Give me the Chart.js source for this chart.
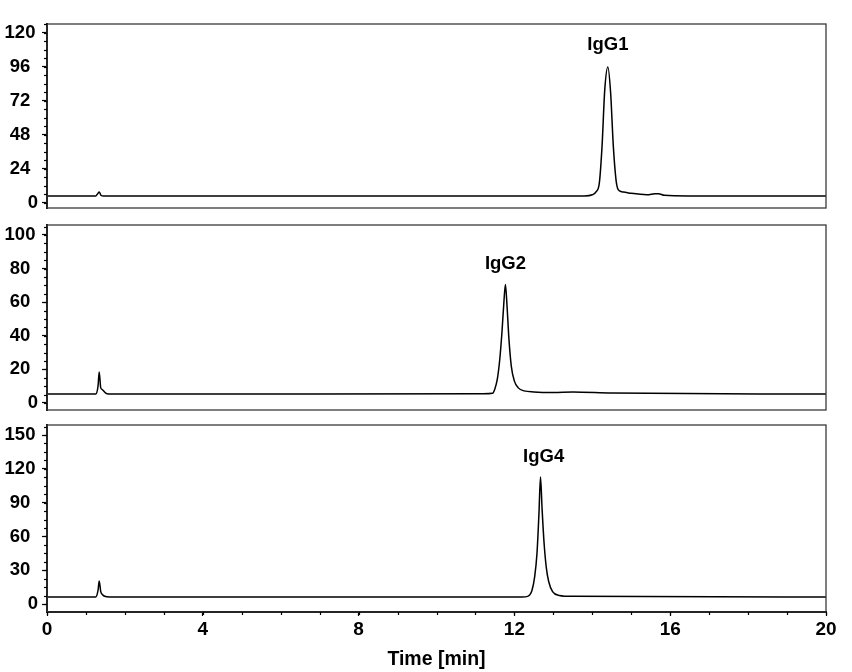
<!DOCTYPE html>
<html>
<head>
<meta charset="utf-8">
<script src="https://cdn.jsdelivr.net/npm/chart.js@4/dist/chart.umd.min.js"></script>
<style>
  html, body { margin: 0; padding: 0; background: #fff; }
  #wrap { position: relative; width: 852px; height: 672px; }
  canvas { position: absolute; left: 0; }
</style>
</head>
<body>
<div id="wrap">
  <canvas id="c1" style="top:0px"></canvas>
  <canvas id="c2" style="top:216px"></canvas>
  <canvas id="c3" style="top:416px"></canvas>
</div>
<script>
// ---------- DATA ----------
const xTickLabels = [0, 4, 8, 12, 16, 20];

const igg1Time   = [0, 1.25, 1.30, 1.34, 1.39, 1.45, 13.8, 14.0, 14.10, 14.18, 14.25, 14.32, 14.40, 14.47, 14.54, 14.62, 14.70, 14.80, 15.0, 15.4, 15.6, 15.7, 15.85, 16.5, 20];
const igg1Signal = [4.9, 4.9, 6.5, 7.8, 5.3, 4.9, 5.0, 5.8, 8.0, 14, 40, 80, 96, 78, 40, 14, 8.5, 7.8, 6.8, 5.8, 6.5, 6.6, 5.4, 5.0, 4.9];

const igg2Time   = [0, 1.25, 1.31, 1.34, 1.38, 1.42, 1.50, 1.58, 11.2, 11.44, 11.50, 11.56, 11.62, 11.68, 11.73, 11.77, 11.81, 11.86, 11.92, 12.00, 12.10, 12.25, 12.5, 13.0, 13.5, 14.5, 20];
const igg2Signal = [5.3, 5.3, 10, 18.5, 9, 8, 6, 5.3, 5.5, 5.8, 8.5, 14, 25, 42, 60, 70.5, 58, 38, 22, 13, 9, 7.2, 6.6, 6.3, 6.5, 5.9, 5.3];

const igg4Time   = [0, 1.25, 1.31, 1.34, 1.38, 1.42, 1.50, 1.60, 12.2, 12.34, 12.45, 12.52, 12.58, 12.63, 12.67, 12.71, 12.76, 12.82, 12.88, 12.98, 13.15, 13.5, 20];
const igg4Signal = [6.2, 6.2, 12, 20.4, 11, 8.5, 6.6, 6.2, 6.3, 6.8, 12, 24, 45, 80, 112.7, 85, 55, 32, 20, 11, 7.6, 6.8, 6.3];

const igg1Ticks = [0, 24, 48, 72, 96, 120];
const igg2Ticks = [0, 20, 40, 60, 80, 100];
const igg4Ticks = [0, 30, 60, 90, 120, 150];

const panelLabels = [
  { text: 'IgG1', x: 14.4,  y: 111.5 },
  { text: 'IgG2', x: 11.77, y: 83 },
  { text: 'IgG4', x: 12.75, y: 131 }
];
// ---------- END DATA ----------

const FONT = "'Liberation Sans', Arial, sans-serif";

const framePlugin = {
  id: 'frame',
  afterDatasetsDraw(chart, args, opts) {
    const { ctx, chartArea: a } = chart;
    ctx.save();
    ctx.strokeStyle = '#3a3a3a';
    ctx.lineWidth = 1.3;
    ctx.strokeRect(a.left, a.top, a.right - a.left, a.bottom - a.top);
    const ys = chart.scales.y;
    ctx.strokeStyle = '#000';
    ctx.lineWidth = 1.2;
    const minor = opts.yMinor;
    for (let v = 0; v <= ys.max; v += minor) {
      const py = Math.round(ys.getPixelForValue(v)) + 0.5;
      ctx.beginPath();
      ctx.moveTo(a.left - 3, py);
      ctx.lineTo(a.left, py);
      ctx.stroke();
    }
    if (opts.xMinor) {
      const xs = chart.scales.x;
      for (let v = 0; v <= 20; v += opts.xMinor) {
        const px = Math.round(xs.getPixelForValue(v)) + 0.5;
        ctx.beginPath();
        ctx.moveTo(px, a.bottom);
        ctx.lineTo(px, a.bottom + 3);
        ctx.stroke();
      }
    }
    if (opts.label) {
      const xs = chart.scales.x;
      ctx.fillStyle = '#000';
      ctx.font = "bold 18.5px " + FONT;
      ctx.textAlign = 'center';
      ctx.textBaseline = 'middle';
      ctx.fillText(opts.label.text, xs.getPixelForValue(opts.label.x), ys.getPixelForValue(opts.label.y));
    }
    ctx.restore();
  }
};

function makePanel(id, height, times, signal, yMin, yMax, yTicks, yMinor, label, showX, pad) {
  const canvas = document.getElementById(id);
  canvas.width = 852;
  canvas.height = height;
  canvas.style.width = '852px';
  canvas.style.height = height + 'px';
  const pts = times.map((t, i) => ({ x: t, y: signal[i] }));
  return new Chart(canvas, {
    type: 'line',
    data: {
      datasets: [{
        data: pts,
        borderColor: '#000',
        borderWidth: 1.5,
        pointRadius: 0,
        cubicInterpolationMode: 'monotone',
        fill: false
      }]
    },
    options: {
      responsive: false,
      animation: false,
      devicePixelRatio: 1,
      layout: { padding: { left: 0, right: 26, top: pad.top, bottom: pad.bottom } },
      plugins: {
        legend: { display: false },
        tooltip: { enabled: false },
        frame: { yMinor: yMinor, xMinor: showX ? 1 : 0, label: label }
      },
      scales: {
        x: {
          type: 'linear',
          min: 0, max: 20,
          display: showX,
          afterBuildTicks: (s) => { s.ticks = xTickLabels.map(v => ({ value: v })); },
          afterFit: (s) => { if (showX) s.height = 60; },
          border: { display: true, color: '#000', width: 2 },
          grid: { display: true, drawOnChartArea: false, drawTicks: true, tickLength: 4, tickColor: '#000', tickWidth: 1.2 },
          ticks: { color: '#000', font: { family: FONT, size: 19, weight: 'bold' }, padding: 2, maxRotation: 0, autoSkip: false },
          title: { display: true, text: 'Time [min]', color: '#000', font: { family: FONT, size: 19.5, weight: 'bold' }, padding: { top: 6, bottom: 1 } }
        },
        y: {
          type: 'linear',
          min: yMin, max: yMax,
          afterBuildTicks: (s) => { s.ticks = yTicks.map(v => ({ value: v })); },
          afterFit: (s) => { s.width = 47; s.paddingTop = 0; s.paddingBottom = 0; },
          border: { display: true, color: '#000', width: 2 },
          grid: { display: true, drawOnChartArea: false, drawTicks: true, tickLength: 5, tickColor: '#000', tickWidth: 1.2 },
          ticks: {
            color: '#000', font: { family: FONT, size: 18.5, weight: 'bold' }, padding: 4, crossAlign: 'center',
            callback: (v) => (v === 0 ? '\u2007\u2007\u00a00' : String(v))
          }
        }
      }
    },
    plugins: [framePlugin]
  });
}

makePanel('c1', 216, igg1Time, igg1Signal, -3.53, 126.35, igg1Ticks, 6, panelLabels[0], false, { top: 24, bottom: 8 });
makePanel('c2', 200, igg2Time, igg2Signal, -4.17, 105.95, igg2Ticks, 5, panelLabels[1], false, { top: 9, bottom: 6 });
makePanel('c3', 256, igg4Time, igg4Signal, -7.1, 158.9, igg4Ticks, 7.5, panelLabels[2], true, { top: 9, bottom: 0 });
</script>
</body>
</html>
